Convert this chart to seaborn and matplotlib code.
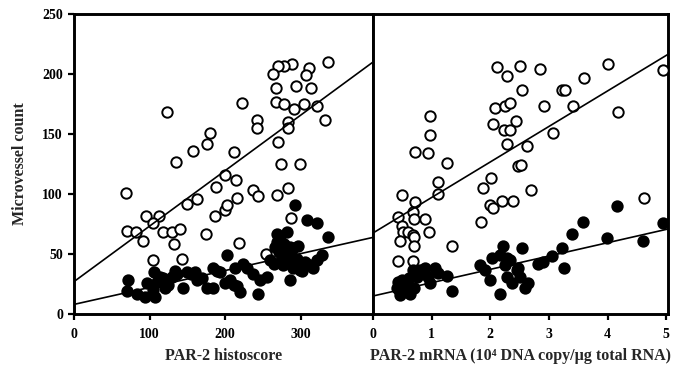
import matplotlib
matplotlib.use("Agg")
import matplotlib.pyplot as plt
import seaborn as sns
import numpy as np
import pandas as pd

# ---- data ----
left_open_x = [336, 289, 278, 270, 264, 311, 307, 294, 314, 267, 267, 278, 291, 305, 322, 333,
               284, 284, 270, 274, 299, 242, 242, 223, 123, 180, 176, 157, 135, 212, 200, 215,
               188, 237, 284, 69, 70, 82, 91, 95, 113, 105, 118, 130, 140, 132, 105, 143, 149,
               163, 175, 187, 200, 202, 216, 219, 244, 269, 287, 254]
left_open_y = [210, 208, 207, 207, 200, 205, 199, 190, 188, 188, 177, 175, 171, 175, 173, 162,
               160, 155, 143, 125, 125, 162, 155, 176, 168, 151, 142, 136, 127, 135, 116, 112,
               106, 103, 105, 101, 69, 68, 61, 82, 82, 76, 68, 68, 71, 58, 45, 46, 92,
               96, 67, 82, 87, 91, 97, 59, 98, 99, 80, 50]

left_filled_x = [70, 72, 83, 94, 97, 104, 107, 106, 110, 114, 121, 118, 125, 130, 134, 137, 144,
                 149, 155, 160, 163, 170, 176, 184, 184, 190, 193, 202, 200, 207, 212, 216, 220,
                 213, 224, 229, 237, 246, 255, 244, 260, 266, 269, 273, 269, 278, 282, 286, 290,
                 297, 293, 309, 322, 337, 276, 277, 283, 290, 286, 280, 299, 306, 313, 317, 322,
                 328, 302, 272, 288, 295, 265]
left_filled_y = [19, 28, 17, 14, 26, 20, 14, 35, 27, 31, 22, 30, 24, 31, 36, 33, 22,
                 35, 33, 35, 28, 30, 22, 22, 38, 36, 35, 49, 26, 28, 24, 23, 18,
                 38, 42, 38, 33, 28, 31, 17, 45, 56, 60, 62, 67, 58, 68, 56, 55,
                 57, 91, 78, 76, 64, 47, 41, 43, 38, 28, 50, 37, 43, 41, 38, 45,
                 49, 36, 52, 49, 46, 42]

right_open_x = [2.11, 2.28, 2.51, 2.85, 2.54, 3.23, 3.28, 3.60, 4.01, 4.95, 4.18, 3.41, 2.92,
                3.07, 2.08, 2.25, 2.34, 2.05, 2.23, 2.34, 2.44, 2.29, 2.63, 2.47, 2.53, 0.97,
                0.97, 0.71, 0.94, 1.26, 1.11, 2.02, 1.88, 2.70, 1.11, 0.49, 0.72, 0.43, 0.68,
                0.70, 0.89, 0.49, 0.51, 0.60, 0.68, 0.96, 0.46, 0.70, 0.70, 0.43, 0.68, 1.35,
                1.84, 2.00, 2.05, 2.20, 2.39, 4.62]
right_open_y = [206, 198, 207, 204, 187, 187, 187, 197, 208, 203, 168, 173, 173,
                151, 172, 173, 176, 158, 153, 153, 161, 142, 140, 123, 124, 165,
                149, 135, 134, 126, 110, 113, 105, 103, 100, 99, 93, 81, 85,
                79, 79, 73, 68, 68, 66, 68, 61, 64, 57, 44, 44, 57,
                77, 91, 88, 94, 94, 97]

right_filled_x = [0.43, 0.49, 0.41, 0.46, 0.58, 0.63, 0.51, 0.68, 0.75, 0.80, 0.89, 0.94, 0.97,
                  1.06, 1.11, 1.26, 1.35, 0.55, 0.62, 0.45, 0.70, 1.83, 1.91, 2.00, 2.03, 2.17,
                  2.22, 2.29, 2.25, 2.34, 2.29, 2.37, 2.46, 2.51, 2.54, 2.59, 2.65, 2.17, 2.47,
                  2.82, 2.90, 3.05, 3.22, 3.26, 3.40, 3.58, 3.99, 4.16, 4.61, 4.95]
right_filled_y = [27, 28, 22, 16, 20, 17, 26, 37, 31, 37, 38, 31, 26,
                  38, 34, 32, 19, 24, 30, 20, 22, 41, 37, 28, 47, 49,
                  57, 47, 41, 45, 31, 26, 37, 31, 55, 22, 26, 17, 38,
                  42, 43, 48, 55, 38, 67, 77, 63, 90, 61, 76]

# regression lines: (intercept, slope)
left_open_fit = (27.0, 0.462)
left_filled_fit = (8.0, 0.141)
right_open_fit = (67.5, 29.6)
right_filled_fit = (15.0, 11.1)

left_xticks = [0, 100, 200, 300]
right_xticks = [0, 1, 2, 3, 4, 5]
yticks = [0, 50, 100, 150, 200, 250]

# ---- styling ----
sns.set_theme(style="white")
plt.rcParams['font.family'] = ['Liberation Serif', 'DejaVu Serif']
plt.rcParams['font.weight'] = 'bold'

fig = plt.figure(figsize=(6.83, 3.70), dpi=100)
W, H = 683, 370
ax1 = fig.add_axes([74 / W, 56 / H, 299 / W, 300 / H])
ax2 = fig.add_axes([373 / W, 56 / H, 295 / W, 300 / H])

ms = 56
ew = 1.4


def panel(ax, ox, oy, fx, fy, ofit, ffit, xlim):
    sns.scatterplot(x=ox, y=oy, ax=ax, s=ms, facecolor='white', edgecolor='black',
                    linewidth=ew, zorder=3)
    sns.scatterplot(x=fx, y=fy, ax=ax, s=ms, color='black', edgecolor='black',
                    linewidth=ew, zorder=4)
    xs = np.array(xlim)
    for b0, b1 in (ofit, ffit):
        sns.lineplot(x=xs, y=b0 + b1 * xs, ax=ax, color='black', linewidth=1.2, zorder=5)
    ax.set_xlim(*xlim)
    ax.set_ylim(0, 250)
    for sp in ax.spines.values():
        sp.set_visible(True)
        sp.set_linewidth(2.1)
        sp.set_color('black')


panel(ax1, left_open_x, left_open_y, left_filled_x, left_filled_y,
      left_open_fit, left_filled_fit, (0, 396))
panel(ax2, right_open_x, right_open_y, right_filled_x, right_filled_y,
      right_open_fit, right_filled_fit, (0, 5.03))

ax1.set_xticks(left_xticks)
ax1.set_yticks(yticks)
ax2.set_xticks(right_xticks)
ax2.set_yticks(yticks)

for ax in (ax1, ax2):
    ax.tick_params(axis='x', direction='out', length=4, width=1.6, pad=6,
                   labelsize=10, bottom=True, colors='black')
    ax.tick_params(axis='y', direction='out', length=4, width=1.6, pad=4,
                   labelsize=10, left=True, colors='black')
    for lab in ax.get_xticklabels() + ax.get_yticklabels():
        lab.set_fontweight('bold')

ax2.tick_params(axis='y', left=False, labelleft=False)

ax1.set_xlabel('PAR-2 histoscore', fontsize=11.5, fontweight='bold', labelpad=5)
ax1.set_ylabel('Microvessel count', fontsize=11.5, fontweight='bold', labelpad=10)
ax2.set_xlabel('PAR-2 mRNA (10\u2074 DNA copy/\u00b5g total RNA)', fontsize=11.5,
               fontweight='bold', labelpad=5)
ax2.set_ylabel('')

fig.savefig('out.png', dpi=100, facecolor='white')
